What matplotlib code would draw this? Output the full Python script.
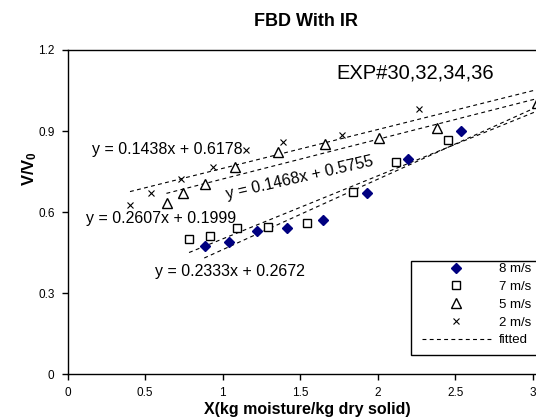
import matplotlib
matplotlib.use("Agg")
import matplotlib.pyplot as plt
import numpy as np
from matplotlib.lines import Line2D
from matplotlib.patches import Rectangle

plt.rcParams['font.family'] = ['Liberation Sans', 'DejaVu Sans']
plt.rcParams['mathtext.fontset'] = 'custom'
plt.rcParams['mathtext.rm'] = 'Liberation Sans'
plt.rcParams['mathtext.bf'] = 'Liberation Sans:bold'

# ---- data ----
x_8 = [0.886, 1.041, 1.223, 1.413, 1.644, 1.929, 2.197, 2.535]
y_8 = [0.475, 0.489, 0.529, 0.540, 0.570, 0.669, 0.796, 0.900]

x_7 = [0.783, 0.916, 1.094, 1.290, 1.546, 1.843, 2.118, 2.455]
y_7 = [0.500, 0.511, 0.539, 0.543, 0.558, 0.673, 0.786, 0.867]

x_5 = [0.639, 0.742, 0.886, 1.077, 1.359, 1.657, 2.010, 2.381, 3.03]
y_5 = [0.632, 0.669, 0.703, 0.766, 0.823, 0.853, 0.873, 0.912, 1.005]

x_2 = [0.402, 0.535, 0.731, 0.937, 1.150, 1.391, 1.768, 2.268]
y_2 = [0.626, 0.669, 0.722, 0.765, 0.831, 0.858, 0.885, 0.980]

# fitted lines: slope, intercept, start x
fit_8 = (0.2607, 0.1999, 0.881)
fit_7 = (0.2333, 0.2672, 0.783)
fit_5 = (0.1468, 0.5755, 0.637)
fit_2 = (0.1438, 0.6178, 0.402)
fit_end = 3.5

x_ticks = [0, 0.5, 1, 1.5, 2, 2.5, 3]
x_ticklabels = ["0", "0.5", "1", "1.5", "2", "2.5", "3"]
y_ticks = [0, 0.3, 0.6, 0.9, 1.2]
y_ticklabels = ["0", "0.3", "0.6", "0.9", "1.2"]
legend_labels = ["8 m/s", "7 m/s", "5 m/s", "2 m/s", "fitted"]

W, H = 536, 419
fig = plt.figure(figsize=(W / 100, H / 100), dpi=100)
x0_px, xax_px, ytop_px = 67.7, 374, 50
ppu = 155.0
xmax = 3.5
ax = fig.add_axes([x0_px / W, (H - xax_px) / H, xmax * ppu / W, (xax_px - ytop_px) / H])
ax.set_xlim(0, xmax)
ax.set_ylim(0, 1.2)

dash = (0, (3.5, 3))
for (m, b, xs) in [fit_8, fit_7, fit_5, fit_2]:
    xx = np.array([xs, fit_end])
    ax.plot(xx, m * xx + b, color='black', lw=0.8, linestyle=dash, zorder=2)

st8 = dict(linestyle='none', marker='D', ms=5, color='#000080', mec='#000080')
st7 = dict(linestyle='none', marker='s', ms=5.5, mfc='white', mec='black', mew=1.0)
st5 = dict(linestyle='none', marker='^', ms=7, mfc='white', mec='black', mew=1.0)
st2 = dict(linestyle='none', marker='x', ms=5, color='black', mew=0.8)
ax.plot(x_8, y_8, zorder=3, **st8)
ax.plot(x_7, y_7, zorder=3, **st7)
ax.plot(x_5, y_5, zorder=3, **st5)
ax.plot(x_2, y_2, zorder=3, **st2)

ax.set_xticks(x_ticks)
ax.set_xticklabels(x_ticklabels)
ax.set_yticks(y_ticks)
ax.set_yticklabels(y_ticklabels)
ax.tick_params(axis='both', labelsize=8.5, length=4.5, width=1, direction='out', pad=5)
for s in ['left', 'bottom', 'top']:
    ax.spines[s].set_linewidth(1.0)
ax.spines['right'].set_visible(False)

# equation texts
eq_fs = 11.5
ax.text(0.155, 0.832, "y = 0.1438x + 0.6178", fontsize=eq_fs, ha='left', va='center')
ax.text(0.118, 0.575, "y = 0.2607x + 0.1999", fontsize=eq_fs, ha='left', va='center')
ax.text(0.563, 0.381, "y = 0.2333x + 0.2672", fontsize=eq_fs, ha='left', va='center')
ax.text(1.496, 0.728, "y = 0.1468x + 0.5755", fontsize=eq_fs, ha='center', va='center',
        rotation=12.9, rotation_mode='anchor')

fig.text(336 / W, 1 - 73 / H, "EXP#30,32,34,36", fontsize=14.5, ha='left', va='center')
fig.text(306 / W, 1 - 21 / H, "FBD With IR", fontsize=13, fontweight='bold', ha='center', va='center')
fig.text(307 / W, 1 - 409 / H, "X(kg moisture/kg dry solid)", fontsize=11.5, fontweight='bold',
         ha='center', va='center')
fig.text(30 / W, 1 - 168 / H, r"$\mathbf{V/V_0}$", fontsize=12, rotation=90, ha='center', va='center')

# legend (frame runs past the right edge like the cropped original)
fig.add_artist(Rectangle((410.7 / W, 1 - 355 / H), 160 / W, 94 / H, transform=fig.transFigure,
                         facecolor='white', edgecolor='black', lw=1.0, zorder=4))
handles = [Line2D([], [], **st8), Line2D([], [], **st7), Line2D([], [], **st5),
           Line2D([], [], **st2), Line2D([], [], color='black', lw=0.8, linestyle=dash)]
leg = fig.legend(handles, legend_labels, loc='upper left', bbox_to_anchor=(421.5 / W, 1 - 263 / H),
                 bbox_transform=fig.transFigure, fontsize=9.5, frameon=False,
                 handlelength=5.3, handletextpad=0.55, labelspacing=0.42, borderpad=0,
                 borderaxespad=0)
leg.set_zorder(5)

fig.savefig("out.png", dpi=100)
